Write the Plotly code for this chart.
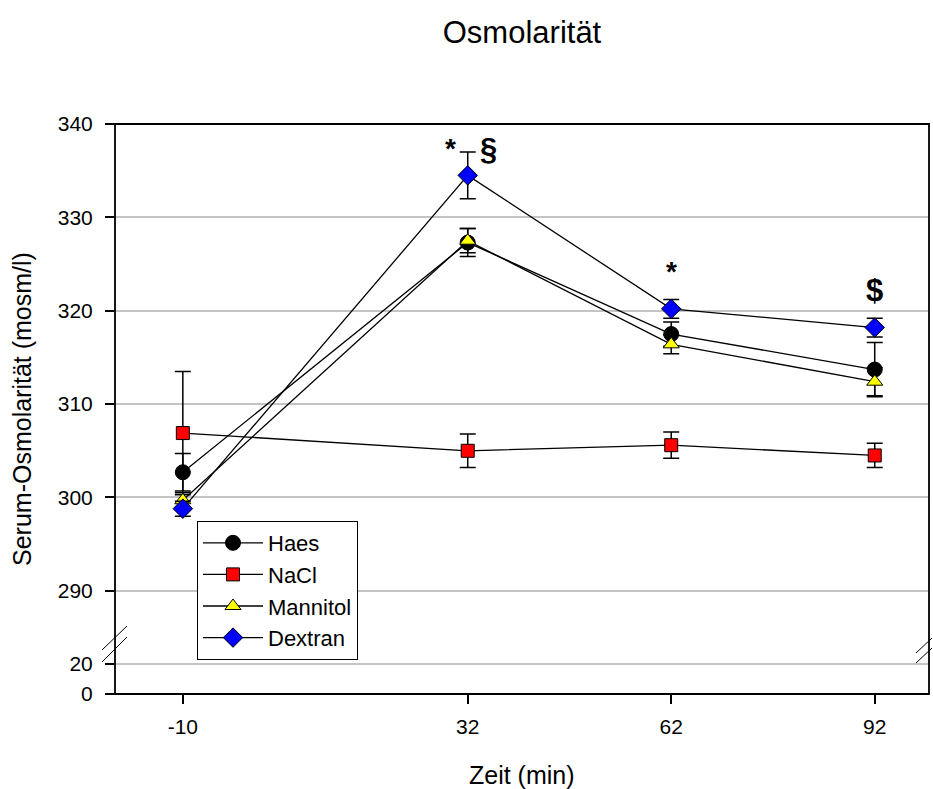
import plotly.graph_objects as go

# ---- data ----
times = [-10, 32, 62, 92]
series_names = ["Haes", "NaCl", "Mannitol", "Dextran"]
haes_mean = [302.7, 327.3, 317.5, 313.7]
haes_err = [2.0, 1.5, 1.3, 2.9]
nacl_mean = [306.9, 305.0, 305.6, 304.5]
nacl_err = [6.6, 1.8, 1.4, 1.3]
mannitol_mean = [299.7, 327.5, 316.4, 312.4]
mannitol_err = [0.8, 1.3, 1.0, 1.5]
dextran_mean = [298.8, 334.5, 320.2, 318.2]
dextran_err = [0.8, 2.5, 1.0, 1.0]

x_ticks = [-10, 32, 62, 92]
upper_ticks = [290, 300, 310, 320, 330, 340]
lower_ticks = [0, 20]

means = [haes_mean, nacl_mean, mannitol_mean, dextran_mean]
errs = [haes_err, nacl_err, mannitol_err, dextran_err]
symbols = ["circle", "square", "triangle-up", "diamond"]
fills = ["#000000", "#ff0000", "#ffff00", "#0000ff"]
sizes = [15, 13, 14, 15]

FONT = "Liberation Sans, Arial, sans-serif"

fig = go.Figure()
# empty trace that only activates the lower (broken) y-axis segment
fig.add_trace(go.Scatter(x=[None], y=[None], xaxis="x", yaxis="y2", mode="markers",
                         showlegend=False, hoverinfo="skip"))
for name, m, e, sym, col, sz in zip(series_names, means, errs, symbols, fills, sizes):
    fig.add_trace(go.Scatter(
        x=times, y=m, name=name, mode="lines+markers",
        line=dict(color="black", width=1.3),
        marker=dict(symbol=sym, size=sz, color=col, line=dict(color="black", width=1)),
        error_y=dict(type="data", array=e, visible=True, color="black", thickness=1.5, width=8),
        xaxis="x", yaxis="y",
    ))

W, H = 933, 789
L, R, T, B = 115, 4, 124, 95
plot_h = H - T - B
break_frac = (694 - 645) / plot_h

fig.update_layout(
    width=W, height=H,
    margin=dict(l=L, r=R, t=T, b=B),
    paper_bgcolor="white", plot_bgcolor="white",
    font=dict(family=FONT, color="black", size=21),
    showlegend=True,
    title=dict(text="Osmolarität", x=(L + (W - L - R) / 2) / W, xanchor="center",
               y=1 - 32 / H, yanchor="middle", yref="container",
               font=dict(size=31, family=FONT, color="black")),
    xaxis=dict(range=[-20, 100], tickvals=x_ticks, ticktext=[str(t) for t in x_ticks],
               ticks="outside", ticklen=9, tickwidth=1.5, tickcolor="black",
               showgrid=False, zeroline=False, showline=False, anchor="y2",
               tickfont=dict(size=21), ticklabelstandoff=5),
    yaxis=dict(domain=[break_frac, 1], range=[284.2, 340], tickvals=upper_ticks,
               ticks="outside", ticklen=9, tickwidth=1.5, tickcolor="black",
               showgrid=True, gridcolor="#c4c4c4", gridwidth=1.5,
               zeroline=False, showline=False, anchor="x",
               tickfont=dict(size=21), ticklabelstandoff=8),
    yaxis2=dict(domain=[0, break_frac], range=[0, 32.2], tickvals=lower_ticks,
                ticks="outside", ticklen=9, tickwidth=1.5, tickcolor="black",
                showgrid=True, gridcolor="#c4c4c4", gridwidth=1.5,
                zeroline=False, showline=False, anchor="x",
                tickfont=dict(size=21), ticklabelstandoff=8),
    legend=dict(x=(197 - L) / (W - L - R), y=(694 - 521) / plot_h, xanchor="left", yanchor="top",
                bgcolor="white", bordercolor="black", borderwidth=1,
                font=dict(size=22, family=FONT, color="black"), itemwidth=60,
                tracegroupgap=0),
)

# frame
shapes = [dict(type="rect", xref="paper", yref="paper", x0=0, y0=0, x1=1, y1=1,
               line=dict(color="black", width=1.8), layer="above")]


def px_to_paper(px, py):
    return (px - L) / (W - L - R), (694 - py) / plot_h


for (a, b) in [((102, 650), (127, 626)), ((102, 662), (127, 637)),
               ((916, 653), (932, 638)), ((916, 663), (932, 648))]:
    x0, y0 = px_to_paper(*a)
    x1, y1 = px_to_paper(*b)
    shapes.append(dict(type="line", xref="paper", yref="paper", x0=x0, y0=y0, x1=x1, y1=y1,
                       line=dict(color="black", width=1)))
fig.update_layout(shapes=shapes)

annots = [
    dict(x=29.5, y=337.4, text="<b>*</b>", size=28),
    dict(x=35.0, y=337.3, text="<b>§</b>", size=31),
    dict(x=62, y=324.2, text="<b>*</b>", size=28),
    dict(x=92, y=322.2, text="<b>$</b>", size=31),
]
for a in annots:
    fig.add_annotation(x=a["x"], y=a["y"], xref="x", yref="y", text=a["text"], showarrow=False,
                       font=dict(size=a["size"], family=FONT, color="black"),
                       xanchor="center", yanchor="middle")

fig.add_annotation(x=(22 - L) / (W - L - R), y=(694 - 409) / plot_h, xref="paper", yref="paper",
                   text="Serum-Osmolarität (mosm/l)", textangle=-90, showarrow=False,
                   font=dict(size=25, family=FONT, color="black"),
                   xanchor="center", yanchor="middle")
fig.add_annotation(x=0.5, y=(694 - 775) / plot_h, xref="paper", yref="paper",
                   text="Zeit (min)", showarrow=False,
                   font=dict(size=25, family=FONT, color="black"),
                   xanchor="center", yanchor="middle")

fig.write_html("out.html")
